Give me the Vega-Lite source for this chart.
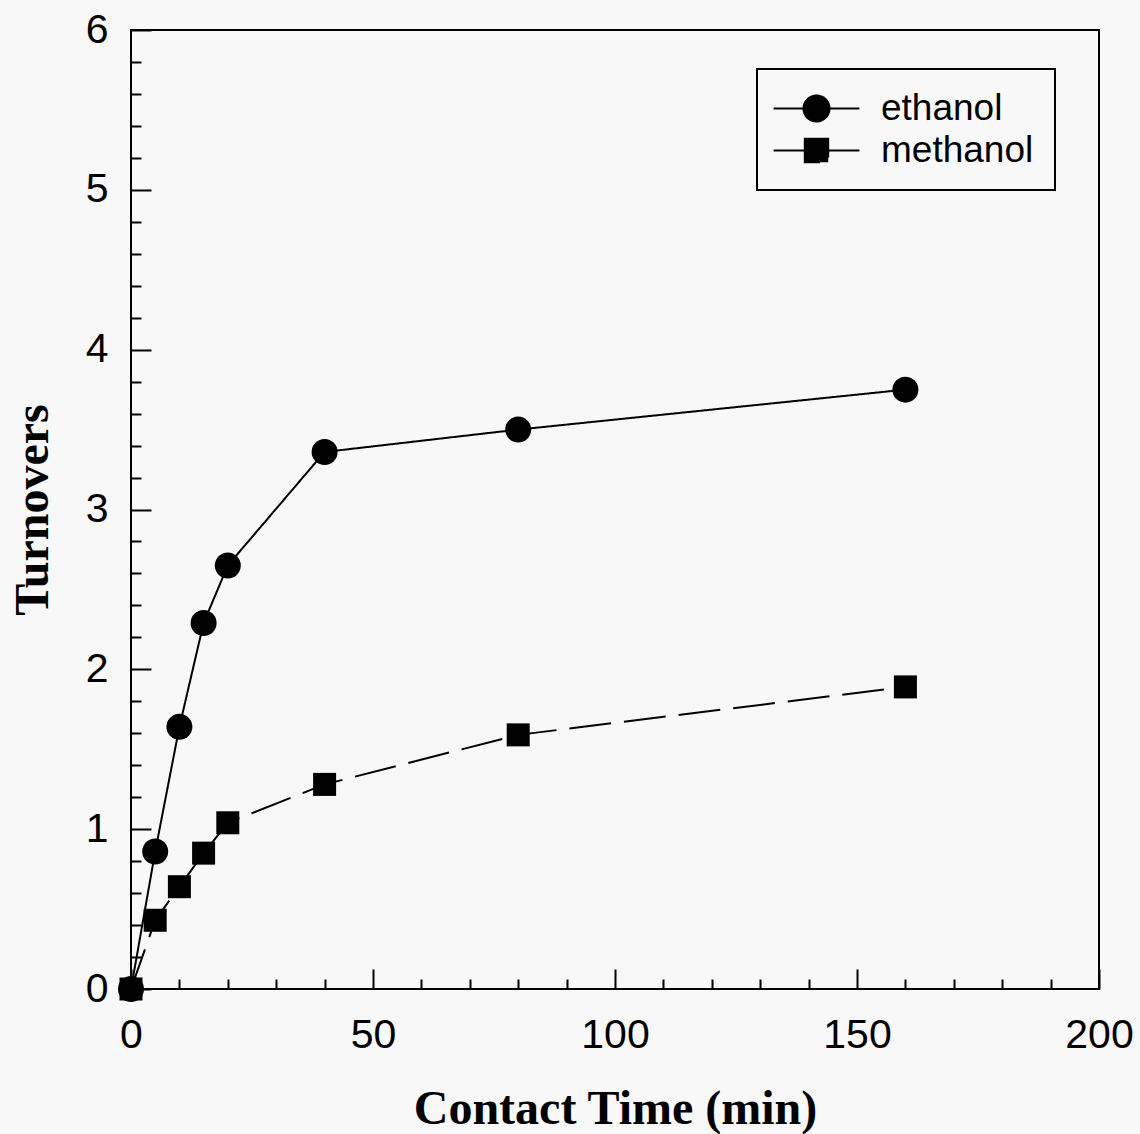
{
  "$schema": "https://vega.github.io/schema/vega-lite/v6.json",
  "autosize": "none",
  "width": 968,
  "height": 959,
  "padding": {"left": 131, "top": 30, "right": 41, "bottom": 145},
  "background": "#f8f8f8",
  "config": {
    "view": {"stroke": "black", "strokeWidth": 2, "fill": "#f8f8f8"},
    "axis": {
      "domain": false,
      "grid": false,
      "tickColor": "black",
      "tickWidth": 2,
      "labelColor": "black",
      "labelFont": "Liberation Sans",
      "labelFontSize": 41,
      "titleFont": "Liberation Serif",
      "titleFontWeight": "bold",
      "titleFontSize": 48,
      "titleColor": "black"
    }
  },
  "data": {
    "values": [
      {"time": 0, "turnovers": 0, "series": "ethanol"},
      {"time": 5, "turnovers": 0.86, "series": "ethanol"},
      {"time": 10, "turnovers": 1.64, "series": "ethanol"},
      {"time": 15, "turnovers": 2.29, "series": "ethanol"},
      {"time": 20, "turnovers": 2.65, "series": "ethanol"},
      {"time": 40, "turnovers": 3.36, "series": "ethanol"},
      {"time": 80, "turnovers": 3.5, "series": "ethanol"},
      {"time": 160, "turnovers": 3.75, "series": "ethanol"},
      {"time": 0, "turnovers": 0, "series": "methanol"},
      {"time": 5, "turnovers": 0.43, "series": "methanol"},
      {"time": 10, "turnovers": 0.64, "series": "methanol"},
      {"time": 15, "turnovers": 0.85, "series": "methanol"},
      {"time": 20, "turnovers": 1.04, "series": "methanol"},
      {"time": 40, "turnovers": 1.28, "series": "methanol"},
      {"time": 80, "turnovers": 1.59, "series": "methanol"},
      {"time": 160, "turnovers": 1.89, "series": "methanol"}
    ]
  },
  "encoding": {
    "x": {
      "field": "time", "type": "quantitative",
      "scale": {"domain": [0, 200], "nice": false, "zero": false},
      "title": "Contact Time (min)",
      "axis": {
        "values": [0,10,20,30,40,50,60,70,80,90,100,110,120,130,140,150,160,170,180,190,200],
        "labelExpr": "datum.value % 50 === 0 ? format(datum.value, 'd') : ''",
        "labelOverlap": false,
        "tickSize": {"condition": {"test": "datum.value % 50 === 0", "value": -20}, "value": -10},
        "labelPadding": 46,
        "titlePadding": 20,
        "labelFlush": false
      }
    },
    "y": {
      "field": "turnovers", "type": "quantitative",
      "scale": {"domain": [0, 6], "nice": false},
      "title": "Turnovers",
      "axis": {
        "values": [0,0.2,0.4,0.6,0.8,1,1.2,1.4,1.6,1.8,2,2.2,2.4,2.6,2.8,3,3.2,3.4,3.6,3.8,4,4.2,4.4,4.6,4.8,5,5.2,5.4,5.6,5.8,6],
        "labelExpr": "datum.value % 1 === 0 ? format(datum.value, 'd') : ''",
        "labelOverlap": false,
        "tickSize": {"condition": {"test": "datum.value % 1 === 0", "value": -20}, "value": -10},
        "labelPadding": 43,
        "titlePadding": 28,
        "labelFlush": false
      }
    }
  },
  "layer": [
    {
      "mark": {"type": "line", "color": "black", "strokeWidth": 2},
      "encoding": {
        "detail": {"field": "series", "type": "nominal"},
        "strokeDash": {
          "field": "series", "type": "nominal",
          "scale": {"domain": ["ethanol", "methanol"], "range": [[1, 0], [42, 13]]},
          "legend": {
            "title": null,
            "orient": "none",
            "legendX": 626,
            "legendY": 39,
            "padding": 21,
            "strokeColor": "black",
            "fillColor": "#f8f8f8",
            "labelFont": "Liberation Sans",
            "labelFontSize": 37,
            "labelColor": "black",
            "labelOffset": 46,
            "symbolOffset": 20,
            "rowPadding": 4,
            "symbolSize": 676,
            "symbolStrokeWidth": 2,
            "symbolStrokeColor": "black",
            "symbolFillColor": "black",
            "encode": {
              "symbols": {
                "update": {
                  "shape": {"signal": "datum.value === 'ethanol' ? 'M-3.3,0H3.3M1,0A1,1,0,1,1,-1,0A1,1,0,1,1,1,0Z' : 'M-3.3,0H3.3M-0.9,-0.9H0.9V0.9H-0.9Z'"},
                  "size": {"value": 676},
                  "fill": {"value": "black"},
                  "stroke": {"value": "black"},
                  "strokeWidth": {"value": 2},
                  "opacity": {"value": 1}
                }
              },
              "legend": {
                "update": {"strokeWidth": {"value": 2}}
              }
            }
          }
        }
      }
    },
    {
      "transform": [{"filter": "datum.series === 'ethanol'"}],
      "mark": {"type": "point", "filled": true, "color": "black", "opacity": 1, "size": 676, "shape": "circle"},
      "encoding": {}
    },
    {
      "transform": [{"filter": "datum.series === 'methanol'"}],
      "mark": {"type": "point", "filled": true, "color": "black", "opacity": 1, "size": 529, "shape": "square"},
      "encoding": {}
    }
  ]
}
